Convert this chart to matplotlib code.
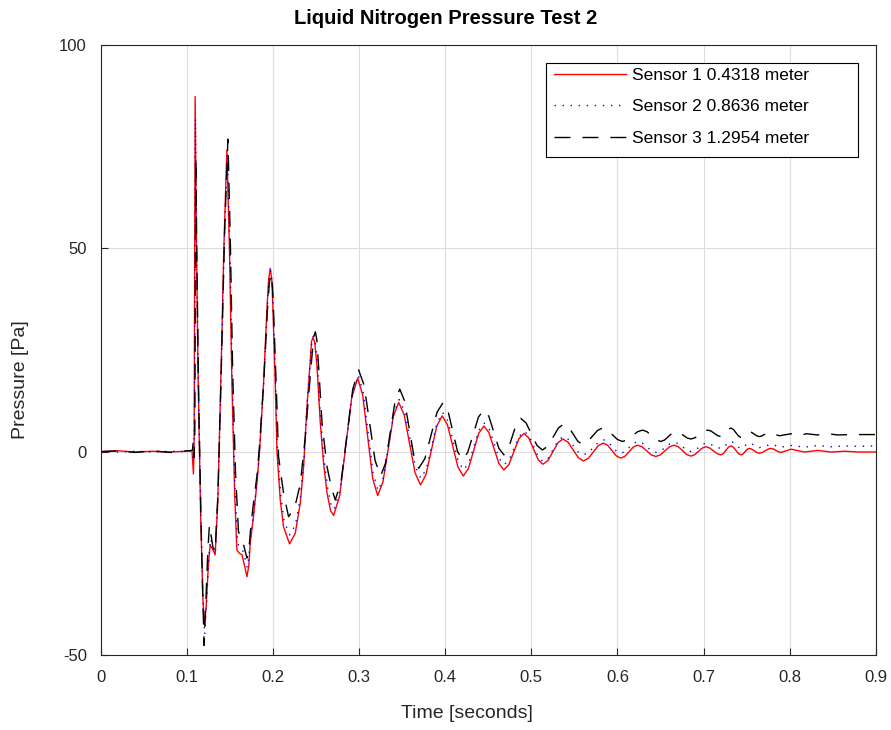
"""
Liquid nitrogen pressure test 2: three pressure sensors along the line.
Saves out.png (891 x 730 px).
"""

import numpy as np
import matplotlib
matplotlib.use("Agg")
import matplotlib.pyplot as plt
from matplotlib.patches import Rectangle

# (time [s], pressure [Pa])
sensor1_points = [
    (0.000, 0.0), (0.020, 0.2), (0.040, -0.1), (0.060, 0.1), (0.080, -0.1),
    (0.100, 0.1), (0.106, 0.3), (0.1077, -5.5), (0.1085, 2.0), (0.1097, 87.4),
    (0.1110, 55.0), (0.1130, 20.0), (0.1160, -15.0), (0.1185, -35.0), (0.1201, -42.6),
    (0.1225, -38.0), (0.1250, -28.0), (0.1271, -23.0), (0.1300, -24.0), (0.1329, -25.4),
    (0.1360, -12.0), (0.1395, 17.6), (0.1430, 50.0), (0.1465, 74.2), (0.1495, 50.0),
    (0.1523, 17.6), (0.1555, -10.0), (0.1581, -24.2), (0.1610, -25.0), (0.1640, -25.4),
    (0.1670, -28.0), (0.1698, -30.8), (0.1720, -28.0), (0.1736, -22.5), (0.1774, -16.0),
    (0.1814, -7.8), (0.1844, 0.0), (0.1891, 16.8), (0.1930, 34.9), (0.1950, 42.5),
    (0.1969, 45.1), (0.1988, 42.0), (0.2000, 35.0), (0.2027, 16.8), (0.2047, 0.0),
    (0.2085, -11.9), (0.2123, -18.5), (0.2193, -22.7), (0.2259, -20.1), (0.2317, -12.7),
    (0.2356, -3.7), (0.2395, 11.1), (0.2434, 22.6), (0.2447, 27.0), (0.2465, 28.1),
    (0.2485, 27.0), (0.2512, 20.9), (0.2550, 7.0), (0.2588, -2.9), (0.2628, -10.2),
    (0.2670, -14.6), (0.2705, -15.7),
    (0.2775, -10.8), (0.2845, 1.2), (0.2914, 13.2), (0.2984, 18.1),
    (0.3042, 13.9), (0.3100, 3.7), (0.3158, -6.6), (0.3216, -10.8),
    (0.3277, -7.5), (0.3338, 0.65), (0.3399, 8.75), (0.3460, 12.1),
    (0.3523, 9.1), (0.3587, 1.95), (0.3650, -5.2), (0.3713, -8.2),
    (0.3776, -5.7), (0.3839, 0.3), (0.3902, 6.3), (0.3965, 8.8),
    (0.4026, 6.6), (0.4087, 1.4), (0.4148, -3.8), (0.4209, -6.0),
    (0.4269, -4.2), (0.4329, 0.15), (0.4389, 4.5), (0.4449, 6.3),
    (0.4507, 4.7), (0.4565, 0.9), (0.4623, -2.9), (0.4681, -4.5),
    (0.4739, -3.2), (0.4798, 0.0), (0.4856, 3.2), (0.4914, 4.5),
    (0.4969, 3.4), (0.5025, 0.7), (0.5080, -2.0), (0.5135, -3.1),
    (0.5193, -2.2), (0.5251, 0.0), (0.5309, 2.2), (0.5367, 3.1),
    (0.5427, 2.3), (0.5486, 0.4), (0.5546, -1.5), (0.5605, -2.3),
    (0.5662, -1.66), (0.5720, -0.1), (0.5777, 1.46), (0.5835, 2.1),
    (0.5886, 1.56), (0.5937, 0.25), (0.5987, -1.06), (0.6038, -1.6),
    (0.6087, -1.13), (0.6136, 0.0), (0.6184, 1.13), (0.6233, 1.6),
    (0.6286, 1.19), (0.6339, 0.2), (0.6392, -0.79), (0.6445, -1.2),
    (0.6498, -0.79), (0.6552, 0.2), (0.6605, 1.19), (0.6658, 1.6),
    (0.6706, 1.2), (0.6755, 0.25), (0.6803, -0.7), (0.6852, -1.1),
    (0.6896, -0.76), (0.6940, 0.05), (0.6983, 0.86), (0.7027, 1.2),
    (0.7070, 0.9), (0.7114, 0.2), (0.7157, -0.5), (0.7201, -0.8),
    (0.7230, -0.48), (0.7259, 0.3), (0.7288, 1.08), (0.7317, 1.4),
    (0.7346, 1.08), (0.7376, 0.3), (0.7405, -0.48), (0.7434, -0.8),
    (0.7458, -0.57), (0.7482, 0.0), (0.7506, 0.57), (0.7530, 0.8),
    (0.7559, 0.62), (0.7589, 0.2), (0.7618, -0.22), (0.7647, -0.4),
    (0.7681, -0.22), (0.7715, 0.2), (0.7749, 0.62), (0.7783, 0.8),
    (0.7812, 0.65), (0.7841, 0.3), (0.7870, -0.05), (0.7899, -0.2),
    (0.7957, 0.2), (0.8015, 0.6), (0.8090, 0.25), (0.8170, -0.1), (0.8250, 0.1),
    (0.8325, 0.3), (0.8400, 0.1), (0.8480, -0.1), (0.8560, 0.0), (0.8640, 0.1),
    (0.8720, 0.0), (0.8795, -0.1), (0.9000, -0.1),
]

sensor2_points = [
    (0.000, 0.0), (0.020, -0.1), (0.040, 0.1), (0.060, -0.1), (0.080, 0.1),
    (0.100, 0.0), (0.106, 0.2), (0.1080, -2.0), (0.1090, 10.0), (0.1100, 82.0),
    (0.1112, 50.0), (0.1135, 15.0), (0.1165, -18.0), (0.1190, -37.0), (0.1208, -45.0),
    (0.1230, -37.0), (0.1255, -26.0), (0.1275, -21.5), (0.1305, -23.5), (0.1332, -25.0),
    (0.1362, -11.0), (0.1398, 18.0), (0.1433, 50.0), (0.1470, 73.5), (0.1500, 50.0),
    (0.1527, 18.0), (0.1558, -8.0), (0.1588, -22.5), (0.1615, -23.5), (0.1645, -24.0),
    (0.1672, -26.0), (0.1700, -28.5), (0.1720, -26.0), (0.1740, -21.0), (0.1777, -15.0),
    (0.1816, -7.0), (0.1846, 0.5), (0.1893, 17.0), (0.1932, 34.5), (0.1953, 42.0),
    (0.1972, 44.5), (0.1990, 41.8), (0.2003, 35.0), (0.2030, 17.0), (0.2052, 0.5),
    (0.2090, -10.5), (0.2128, -17.0), (0.2195, -20.5), (0.2262, -18.0), (0.2320, -11.0),
    (0.2358, -2.5), (0.2397, 12.0), (0.2436, 23.0), (0.2452, 27.2), (0.2470, 28.4),
    (0.2490, 27.0), (0.2515, 21.5), (0.2553, 8.0), (0.2592, -1.5), (0.2632, -8.5),
    (0.2675, -13.2), (0.2710, -14.2),
    (0.2780, -9.4), (0.2850, 2.3), (0.2920, 14.0), (0.2990, 18.8),
    (0.3048, 14.65), (0.3106, 4.6), (0.3164, -5.45), (0.3222, -9.6),
    (0.3283, -6.3), (0.3344, 1.6), (0.3404, 9.5), (0.3465, 12.8),
    (0.3528, 9.97), (0.3592, 3.1), (0.3655, -3.77), (0.3718, -6.6),
    (0.3781, -4.23), (0.3844, 1.5), (0.3907, 7.23), (0.3970, 9.6),
    (0.4031, 7.54), (0.4092, 2.55), (0.4152, -2.44), (0.4213, -4.5),
    (0.4273, -2.82), (0.4333, 1.25), (0.4393, 5.32), (0.4453, 7.0),
    (0.4511, 5.51), (0.4569, 1.9), (0.4627, -1.71), (0.4685, -3.2),
    (0.4743, -2.0), (0.4802, 0.9), (0.4860, 3.8), (0.4918, 5.0),
    (0.4973, 3.9), (0.5028, 1.25), (0.5083, -1.4), (0.5138, -2.5),
    (0.5196, -1.6), (0.5254, 0.6), (0.5312, 2.8), (0.5370, 3.7),
    (0.5429, 3.04), (0.5488, 1.45), (0.5546, -0.14), (0.5605, -0.8),
    (0.5664, -0.26), (0.5723, 1.05), (0.5781, 2.36), (0.5840, 2.9),
    (0.5890, 2.42), (0.5940, 1.25), (0.5990, 0.08), (0.6040, -0.4),
    (0.6089, 0.02), (0.6138, 1.05), (0.6186, 2.08), (0.6235, 2.5),
    (0.6289, 2.1), (0.6343, 1.15), (0.6396, 0.2), (0.6450, -0.2),
    (0.6503, 0.17), (0.6555, 1.05), (0.6608, 1.93), (0.6660, 2.3),
    (0.6709, 1.96), (0.6758, 1.15), (0.6806, 0.34), (0.6855, 0.0),
    (0.6899, 0.31), (0.6943, 1.05), (0.6986, 1.79), (0.7030, 2.1),
    (0.7073, 1.9), (0.7116, 1.45), (0.7158, 1.0), (0.7201, 0.8),
    (0.7230, 1.05), (0.7259, 1.65), (0.7288, 2.25), (0.7317, 2.5),
    (0.7346, 2.25), (0.7376, 1.65), (0.7405, 1.05), (0.7434, 0.8),
    (0.7458, 1.0), (0.7482, 1.45), (0.7506, 1.9), (0.7530, 2.1),
    (0.7559, 1.94), (0.7589, 1.55), (0.7618, 1.16), (0.7647, 1.0),
    (0.7715, 1.4), (0.7783, 1.8), (0.7841, 1.45), (0.7899, 1.1),
    (0.7957, 1.3), (0.8015, 1.5), (0.8090, 1.3), (0.8170, 1.1), (0.8250, 1.3),
    (0.8325, 1.5), (0.8400, 1.35), (0.8480, 1.2), (0.8560, 1.3), (0.8640, 1.4),
    (0.8795, 1.3), (0.9000, 1.4),
]

sensor3_points = [
    (0.000, 0.0), (0.020, 0.2), (0.040, -0.2), (0.060, 0.2), (0.080, -0.2),
    (0.100, 0.2), (0.1065, 0.3), (0.1075, 2.5), (0.1085, -1.5), (0.1093, 5.0),
    (0.1105, 72.0), (0.1118, 45.0), (0.1140, 10.0), (0.1168, -20.0), (0.1188, -38.0),
    (0.1201, -47.7), (0.1225, -35.0), (0.1245, -24.0), (0.1263, -18.0), (0.1302, -23.4),
    (0.1329, -24.6), (0.1362, -10.0), (0.1400, 20.0), (0.1440, 55.0), (0.1477, 76.9),
    (0.1505, 52.0), (0.1532, 20.0), (0.1565, -5.0), (0.1600, -19.7), (0.1630, -21.0),
    (0.1660, -23.0), (0.1698, -26.2), (0.1725, -23.0), (0.1745, -18.0), (0.1774, -12.7),
    (0.1814, -6.0), (0.1846, 2.0), (0.1895, 18.0), (0.1935, 34.5), (0.1957, 41.3),
    (0.1977, 43.7), (0.1995, 40.5), (0.2010, 33.0), (0.2040, 15.0), (0.2065, -1.2),
    (0.2123, -10.2), (0.2181, -16.0), (0.2250, -14.0), (0.2317, -8.0), (0.2376, 3.7),
    (0.2415, 14.0), (0.2455, 24.0), (0.2475, 28.3), (0.2492, 29.5), (0.2510, 27.5),
    (0.2530, 21.0), (0.2570, 7.0), (0.2628, -3.7), (0.2680, -9.0), (0.2724, -11.9),
    (0.2792, -7.2), (0.2860, 4.1), (0.2927, 15.4), (0.2995, 20.1),
    (0.3059, 16.3), (0.3123, 7.05), (0.3186, -2.2), (0.3250, -6.0),
    (0.3306, -2.9), (0.3361, 4.7), (0.3417, 12.3), (0.3472, 15.4),
    (0.3527, 12.55), (0.3583, 5.65), (0.3638, -1.25), (0.3693, -4.1),
    (0.3764, -1.73), (0.3835, 4.0), (0.3906, 9.73), (0.3977, 12.1),
    (0.4032, 10.04), (0.4088, 5.05), (0.4143, 0.06), (0.4198, -2.0),
    (0.4261, -0.2), (0.4324, 4.15), (0.4386, 8.5), (0.4449, 10.3),
    (0.4507, 8.68), (0.4565, 4.75), (0.4623, 0.82), (0.4681, -0.8),
    (0.4730, 0.51), (0.4779, 3.7), (0.4827, 6.89), (0.4876, 8.2),
    (0.4939, 7.06), (0.5002, 4.3), (0.5065, 1.54), (0.5128, 0.4),
    (0.5191, 1.33), (0.5254, 3.6), (0.5316, 5.87), (0.5379, 6.8),
    (0.5433, 6.07), (0.5486, 4.3), (0.5540, 2.53), (0.5593, 1.8),
    (0.5651, 2.38), (0.5710, 3.8), (0.5768, 5.22), (0.5826, 5.8),
    (0.5884, 5.32), (0.5942, 4.15), (0.6000, 2.98), (0.6058, 2.5),
    (0.6116, 2.91), (0.6175, 3.9), (0.6233, 4.89), (0.6291, 5.3),
    (0.6344, 4.89), (0.6397, 3.9), (0.6450, 2.91), (0.6503, 2.5),
    (0.6547, 2.85), (0.6591, 3.7), (0.6634, 4.55), (0.6678, 4.9),
    (0.6722, 4.64), (0.6765, 4.0), (0.6809, 3.36), (0.6852, 3.1),
    (0.6901, 3.42), (0.6950, 4.2), (0.6998, 4.98), (0.7047, 5.3),
    (0.7086, 5.07), (0.7124, 4.5), (0.7163, 3.93), (0.7201, 3.7),
    (0.7230, 4.0), (0.7259, 4.75), (0.7288, 5.5), (0.7317, 5.8),
    (0.7346, 5.46), (0.7376, 4.65), (0.7405, 3.84), (0.7434, 3.5),
    (0.7458, 3.7), (0.7482, 4.2), (0.7506, 4.7), (0.7530, 4.9),
    (0.7559, 4.72), (0.7589, 4.3), (0.7618, 3.88), (0.7647, 3.7),
    (0.7676, 3.85), (0.7705, 4.2), (0.7734, 4.55), (0.7763, 4.7),
    (0.7821, 4.3), (0.7879, 3.9), (0.7947, 4.15), (0.8015, 4.4), (0.8112, 3.9),
    (0.8190, 4.4), (0.8260, 4.25), (0.8325, 4.1), (0.8442, 4.4), (0.8558, 4.1),
    (0.8713, 4.2), (0.9000, 4.2),
]

sensor_labels = [
    "Sensor 1 0.4318 meter",
    "Sensor 2 0.8636 meter",
    "Sensor 3 1.2954 meter",
]

x_ticks = [0, 0.1, 0.2, 0.3, 0.4, 0.5, 0.6, 0.7, 0.8, 0.9]
x_tick_labels = ["0", "0.1", "0.2", "0.3", "0.4", "0.5", "0.6", "0.7", "0.8", "0.9"]
y_ticks = [-50, 0, 50, 100]

INK = "#262626"

plt.rcParams["font.family"] = ["Liberation Sans", "DejaVu Sans"]
plt.rcParams["axes.unicode_minus"] = False

fig = plt.figure(figsize=(8.91, 7.30), dpi=100, facecolor="white")
ax = fig.add_axes([0.113, 0.103, 0.870, 0.835])

s1 = np.array(sensor1_points)
s2 = np.array(sensor2_points)
s3 = np.array(sensor3_points)

ax.plot(s1[:, 0], s1[:, 1], color="red", linewidth=1.0, label=sensor_labels[0])
ax.plot(s2[:, 0], s2[:, 1], color="blue", linewidth=1.0, dashes=(1.0, 4.8),
        label=sensor_labels[1])
ax.plot(s3[:, 0], s3[:, 1], color="black", linewidth=1.0, dashes=(11.5, 8.6),
        label=sensor_labels[2])

ax.set_xlim(0, 0.9)
ax.set_ylim(-50, 100)
ax.set_xticks(x_ticks)
ax.set_xticklabels(x_tick_labels)
ax.set_yticks(y_ticks)
ax.grid(True, color="#dcdcdc", linewidth=0.8)
ax.set_axisbelow(True)
ax.tick_params(direction="in", length=5, width=0.8, labelsize=12, colors=INK)
ax.tick_params(axis="x", pad=11)
ax.tick_params(axis="y", pad=10)
for sp in ax.spines.values():
    sp.set_edgecolor(INK)
    sp.set_linewidth(0.8)

# title, axis labels
fig.text(446 / 891, 1 - 18 / 730, "Liquid Nitrogen Pressure Test 2",
         fontsize=14.5, fontweight="bold", ha="center", va="center")
ax.set_xlabel("Time [seconds]", fontsize=14, color=INK)
ax.xaxis.set_label_coords(0.472, -0.082)
ax.set_ylabel("Pressure [Pa]", fontsize=14, color=INK)
ax.yaxis.set_label_coords(-0.093, 0.451)

# legend: MATLAB-like box, wider than its content
ax.add_patch(Rectangle((0.574, 0.8168), 0.403, 0.1542, transform=ax.transAxes,
                       facecolor="white", edgecolor="black", linewidth=0.8, zorder=4.5))
leg = ax.legend(loc="upper left", bbox_to_anchor=(0.5844, 0.9636), fontsize=12.5,
                handlelength=4.14, labelspacing=0.95, borderpad=0.0, borderaxespad=0.0,
                handletextpad=0.35, frameon=False)
leg.set_zorder(5)

fig.savefig("out.png", dpi=100)
plt.close(fig)
